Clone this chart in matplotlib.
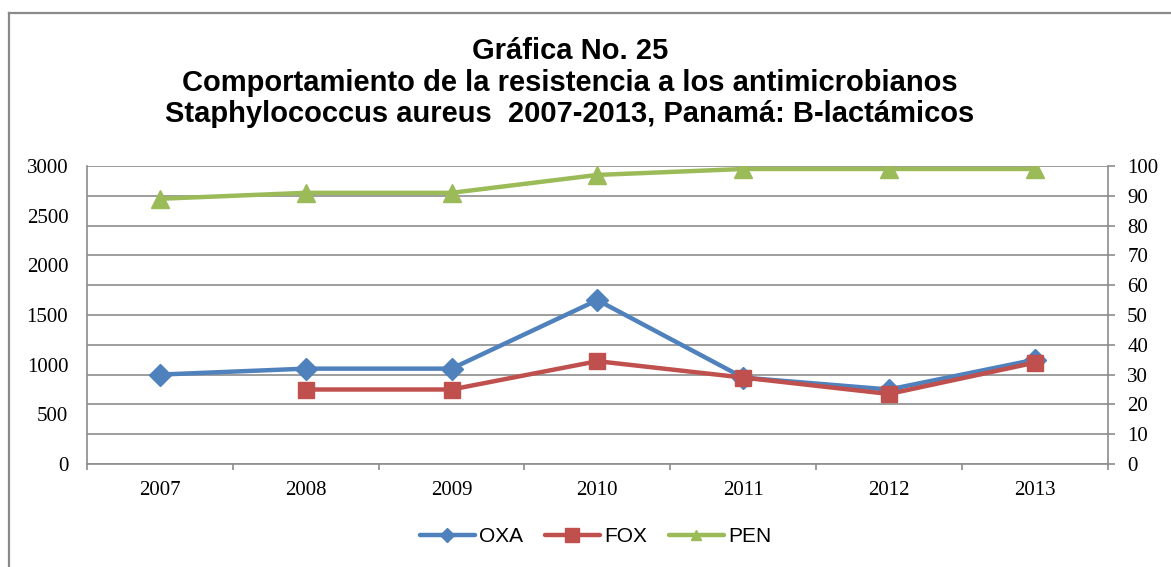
import matplotlib
matplotlib.use("Agg")
import matplotlib.pyplot as plt
from matplotlib.lines import Line2D
import numpy as np

years = ["2007", "2008", "2009", "2010", "2011", "2012", "2013"]
oxa = [30, 32, 32, 55, 29, 25, 35]
fox = [None, 25, 25, 34.5, 29, 23.5, 34]
pen = [89, 91, 91, 97, 99, 99, 99]
left_ticks = [0, 500, 1000, 1500, 2000, 2500, 3000]
right_ticks = list(range(0, 101, 10))
title_lines = ["Gráfica No. 25",
               "Comportamiento de la resistencia a los antimicrobianos",
               "Staphylococcus aureus  2007-2013, Panamá: B-lactámicos"]

C_OXA = "#4F81BD"
C_FOX = "#C0504D"
C_PEN = "#9BBB59"
GRID = "#8C8C8C"
SANS = ["Liberation Sans", "DejaVu Sans"]
SERIF = ["Liberation Serif", "DejaVu Serif"]

W, H = 1171, 567
fig = plt.figure(figsize=(W / 100, H / 100), dpi=100)
fig.patch.set_facecolor("white")

# chart border (only top and left visible in crop)
fig.add_artist(Line2D([9 / W, 9 / W], [0, 1 - 12.7 / H], transform=fig.transFigure,
                      color="#8A8A8A", lw=1.6))
fig.add_artist(Line2D([9 / W, 1], [1 - 12.7 / H, 1 - 12.7 / H], transform=fig.transFigure,
                      color="#8A8A8A", lw=1.6))

x0, x1 = 87 / W, 1107.7 / W
yb, yt = 1 - 464 / H, 1 - 166 / H
ax = fig.add_axes([x0, yb, x1 - x0, yt - yb])
ax2 = ax.twinx()

x = np.arange(len(years))

# left axis
ax.set_ylim(0, 3000)
ax.set_yticks(left_ticks)
ax.set_yticklabels([str(v) for v in left_ticks], fontfamily=SERIF, fontsize=15)
ax.tick_params(axis="y", length=0, pad=13.5)
ax.set_xlim(-0.5, len(years) - 0.5)
ax.set_xticks(x)
ax.set_xticklabels(years, fontfamily=SERIF, fontsize=15)
ax.set_xticks(np.arange(-0.5, len(years), 1.0), minor=True)
ax.tick_params(axis="x", which="major", length=0, pad=12.5)
ax.tick_params(axis="x", which="minor", length=4.5, width=1.2, color=GRID, direction="out")
for s in ["top", "right"]:
    ax.spines[s].set_visible(False)
for s in ["left", "bottom"]:
    ax.spines[s].set_color(GRID)
    ax.spines[s].set_linewidth(1.2)

# right axis
ax2.set_ylim(0, 100)
ax2.set_yticks(right_ticks)
ax2.set_yticklabels([str(v) for v in right_ticks], fontfamily=SERIF, fontsize=15)
ax2.tick_params(axis="y", length=5, width=1.2, color=GRID, pad=9)
ax2.grid(axis="y", color=GRID, lw=1.2)
ax2.set_axisbelow(True)
for s in ["top", "left", "bottom"]:
    ax2.spines[s].set_visible(False)
ax2.spines["right"].set_color(GRID)
ax2.spines["right"].set_linewidth(1.2)

def arr(v):
    return np.array([np.nan if a is None else a for a in v], dtype=float)

ax2.plot(x, arr(oxa), color=C_OXA, lw=3.2, marker="D", ms=11, mec=C_OXA, zorder=3)
ax2.plot(x, arr(fox), color=C_FOX, lw=3.2, marker="s", ms=12, mec=C_FOX, zorder=4)
ax2.plot(x, arr(pen), color=C_PEN, lw=3.2, marker="^", ms=13, mec=C_PEN, zorder=5)

handles = [Line2D([], [], color=C_OXA, lw=3.2, marker="D", ms=7, solid_capstyle="round"),
           Line2D([], [], color=C_FOX, lw=3.2, marker="s", ms=10, solid_capstyle="round"),
           Line2D([], [], color=C_PEN, lw=3.2, marker="^", ms=7, solid_capstyle="round")]
fig.legend(handles, ["OXA", "FOX", "PEN"], loc="center", bbox_to_anchor=(595.5 / W, 1 - 537 / H),
           ncol=3, frameon=False, prop={"family": SANS, "size": 15},
           handlelength=2.65, handletextpad=0.2, columnspacing=1.05, borderpad=0)

for i, (t, yy) in enumerate(zip(title_lines, [59, 91, 122])):
    fig.text(570 / W, 1 - yy / H, t, ha="center", va="baseline", fontfamily=SANS,
             fontsize=21, fontweight="bold")

fig.savefig("out.png", dpi=100, facecolor="white")
